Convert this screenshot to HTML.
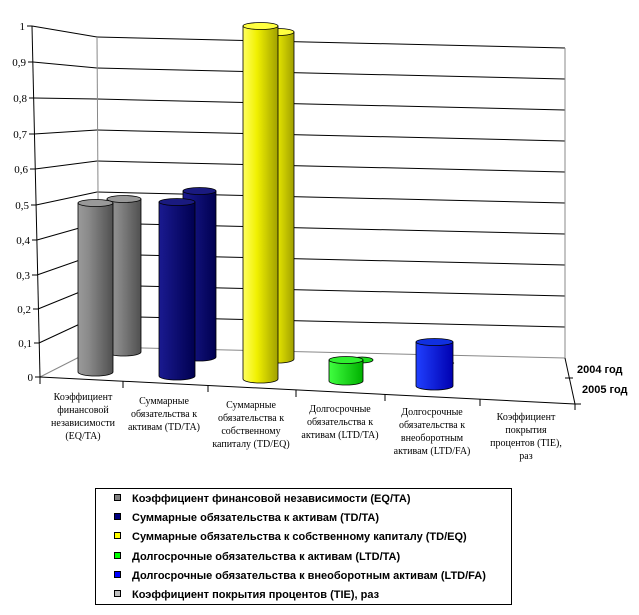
<!DOCTYPE html>
<html><head><meta charset="utf-8"><style>
html,body{margin:0;padding:0;background:#fff;}
svg{display:block;font-family:"Liberation Serif",serif;}
.l{font-family:"Liberation Sans",sans-serif;font-weight:bold;font-size:11px;}
</style></head><body>
<svg width="639" height="615" viewBox="0 0 639 615" xmlns="http://www.w3.org/2000/svg">
<defs>
<linearGradient id="gr" x1="0" x2="1"><stop offset="0" stop-color="#9a9a9a"/><stop offset="0.3" stop-color="#8a8a8a"/><stop offset="1" stop-color="#505050"/></linearGradient>
<linearGradient id="nv" x1="0" x2="1"><stop offset="0" stop-color="#1a1a90"/><stop offset="1" stop-color="#000050"/></linearGradient>
<linearGradient id="ye" x1="0" x2="1"><stop offset="0" stop-color="#ffff60"/><stop offset="0.4" stop-color="#f0f000"/><stop offset="1" stop-color="#a0a000"/></linearGradient>
<linearGradient id="gn" x1="0" x2="1"><stop offset="0" stop-color="#40ff40"/><stop offset="1" stop-color="#00b000"/></linearGradient>
<linearGradient id="bl" x1="0" x2="1"><stop offset="0" stop-color="#2040ff"/><stop offset="1" stop-color="#0000b0"/></linearGradient>
</defs>
<!-- back wall -->
<g stroke="#000" stroke-width="1" fill="none">
<line x1="97" y1="37" x2="565" y2="48"/>
<line x1="97" y1="68" x2="565" y2="79"/>
<line x1="97" y1="99" x2="565" y2="110"/>
<line x1="97" y1="130" x2="565" y2="141"/>
<line x1="97" y1="161" x2="565" y2="172"/>
<line x1="97" y1="192" x2="565" y2="203"/>
<line x1="97" y1="223" x2="565" y2="234"/>
<line x1="97" y1="254" x2="565" y2="265"/>
<line x1="97" y1="285" x2="565" y2="296"/>
<line x1="97" y1="316" x2="565" y2="327"/>
<line x1="32" y1="26" x2="97" y2="37"/>
<line x1="33" y1="62" x2="97" y2="68"/>
<line x1="34" y1="98" x2="97" y2="99"/>
<line x1="34" y1="134" x2="97" y2="130"/>
<line x1="35" y1="169" x2="97" y2="161"/>
<line x1="36" y1="205" x2="97" y2="192"/>
<line x1="37" y1="240" x2="97" y2="223"/>
<line x1="37" y1="275" x2="97" y2="254"/>
<line x1="38" y1="309" x2="97" y2="285"/>
<line x1="39" y1="343" x2="97" y2="316"/>
</g>
<g stroke="#888" fill="none">
<line x1="97" y1="37" x2="99" y2="347"/>
<line x1="565" y1="48" x2="565" y2="358"/>
<line x1="99" y1="347" x2="565" y2="358"/>
<line x1="40" y1="377" x2="99" y2="347"/>
</g>
<g stroke="#000" fill="none">
<line x1="32" y1="26" x2="40" y2="377"/>
<line x1="40" y1="377" x2="575" y2="404"/>
<line x1="565" y1="358" x2="575" y2="404"/>
<line x1="565" y1="378" x2="573" y2="378"/>
<line x1="575" y1="404" x2="581" y2="404"/>
<g>
<line x1="27" y1="26" x2="32" y2="26"/><line x1="28" y1="62" x2="33" y2="62"/><line x1="29" y1="98" x2="34" y2="98"/><line x1="29" y1="134" x2="34" y2="134"/><line x1="30" y1="169" x2="35" y2="169"/><line x1="31" y1="205" x2="36" y2="205"/><line x1="32" y1="240" x2="37" y2="240"/><line x1="32" y1="275" x2="37" y2="275"/><line x1="33" y1="309" x2="38" y2="309"/><line x1="34" y1="343" x2="39" y2="343"/><line x1="35" y1="377" x2="40" y2="377"/>
</g>
<line x1="40" y1="377" x2="40" y2="384"/><line x1="123" y1="381" x2="123" y2="388"/><line x1="208" y1="385" x2="208" y2="392"/><line x1="296" y1="390" x2="296" y2="397"/><line x1="385" y1="394" x2="385" y2="401"/><line x1="480" y1="399" x2="480" y2="406"/><line x1="575" y1="404" x2="575" y2="410"/>
</g>
<g font-size="11" text-anchor="end">
<text x="25" y="30">1</text><text x="26" y="66">0,9</text><text x="27" y="102">0,8</text><text x="27" y="138">0,7</text><text x="28" y="173">0,6</text><text x="29" y="209">0,5</text><text x="30" y="244">0,4</text><text x="30" y="279">0,3</text><text x="31" y="313">0,2</text><text x="32" y="347">0,1</text><text x="33" y="381">0</text>
</g>
<!-- cylinders back (2004) -->
<g stroke="#000" stroke-width="0.8">
<path d="M107 199 V352 A17 4 0 0 0 141 352 V199 Z" fill="url(#gr)"/><ellipse cx="124" cy="199" rx="17" ry="3.5" fill="#999"/>
<path d="M183 191 V357 A16.5 4 0 0 0 216 357 V191 Z" fill="url(#nv)"/><ellipse cx="199.5" cy="191" rx="16.5" ry="3.5" fill="#1a1a80"/>
<path d="M262 32 V359 A16 4 0 0 0 294 359 V32 Z" fill="url(#ye)"/><ellipse cx="278" cy="32" rx="16" ry="3.5" fill="#ffff40"/>
<ellipse cx="362" cy="360" rx="11" ry="3" fill="#20e020"/>
<path d="M448 362 l6 1 l-6 2 Z" fill="#0000c0"/>
<!-- front (2005) -->
<path d="M78 203 V372 A17.5 4 0 0 0 113 372 V203 Z" fill="url(#gr)"/><ellipse cx="95.5" cy="203" rx="17.5" ry="3.5" fill="#999"/>
<path d="M159 202 V376 A18 4 0 0 0 195 376 V202 Z" fill="url(#nv)"/><ellipse cx="177" cy="202" rx="18" ry="3.5" fill="#1a1a80"/>
<path d="M243 26 V379 A17.5 4 0 0 0 278 379 V26 Z" fill="url(#ye)"/><ellipse cx="260.5" cy="26" rx="17.5" ry="3.5" fill="#ffff40"/>
<path d="M329 360 V381 A17 4 0 0 0 363 381 V360 Z" fill="url(#gn)"/><ellipse cx="346" cy="360" rx="17" ry="3.5" fill="#30f030"/>
<path d="M416 342 V386 A18.5 4 0 0 0 453 386 V342 Z" fill="url(#bl)"/><ellipse cx="434.5" cy="342" rx="18.5" ry="3.5" fill="#1030e0"/>
</g>
<!-- category labels -->
<g font-size="10" text-anchor="middle">
<text x="83" y="400">Коэффициент</text><text x="83" y="413">финансовой</text><text x="83" y="426">независимости</text><text x="83" y="439">(EQ/TA)</text>
<text x="164" y="404">Суммарные</text><text x="164" y="417">обязательства к</text><text x="164" y="430">активам (TD/TA)</text>
<text x="251" y="408">Суммарные</text><text x="251" y="421">обязательства к</text><text x="251" y="434">собственному</text><text x="251" y="447">капиталу (TD/EQ)</text>
<text x="340" y="412">Долгосрочные</text><text x="340" y="425">обязательства к</text><text x="340" y="438">активам (LTD/TA)</text>
<text x="432" y="415">Долгосрочные</text><text x="432" y="428">обязательства к</text><text x="432" y="441">внеоборотным</text><text x="432" y="454">активам (LTD/FA)</text>
<text x="526" y="420">Коэффициент</text><text x="526" y="433">покрытия</text><text x="526" y="446">процентов (TIE),</text><text x="526" y="459">раз</text>
</g>
<text class="l" x="577" y="373">2004 год</text>
<text class="l" x="582" y="393">2005 год</text>
<!-- legend -->
<rect x="95.5" y="488.5" width="416" height="116" fill="#fff" stroke="#000"/>
<g stroke="#000" stroke-width="1">
<rect x="114.5" y="494.5" width="6" height="6" fill="#808080"/>
<rect x="114.5" y="513.5" width="6" height="6" fill="#000080"/>
<rect x="114.5" y="532.5" width="6" height="6" fill="#ffff00"/>
<rect x="114.5" y="552.5" width="6" height="6" fill="#00ff00"/>
<rect x="114.5" y="571.5" width="6" height="6" fill="#0000ff"/>
<rect x="114.5" y="590.5" width="6" height="6" fill="#c0c0c0"/>
</g>
<g class="l">
<text x="132" y="502">Коэффициент финансовой независимости (EQ/TA)</text>
<text x="132" y="521">Суммарные обязательства к активам (TD/TA)</text>
<text x="132" y="540">Суммарные обязательства к собственному капиталу (TD/EQ)</text>
<text x="132" y="560">Долгосрочные обязательства к активам (LTD/TA)</text>
<text x="132" y="579">Долгосрочные обязательства к внеоборотным активам (LTD/FA)</text>
<text x="132" y="598">Коэффициент покрытия процентов (TIE), раз</text>
</g>
</svg>
</body></html>
